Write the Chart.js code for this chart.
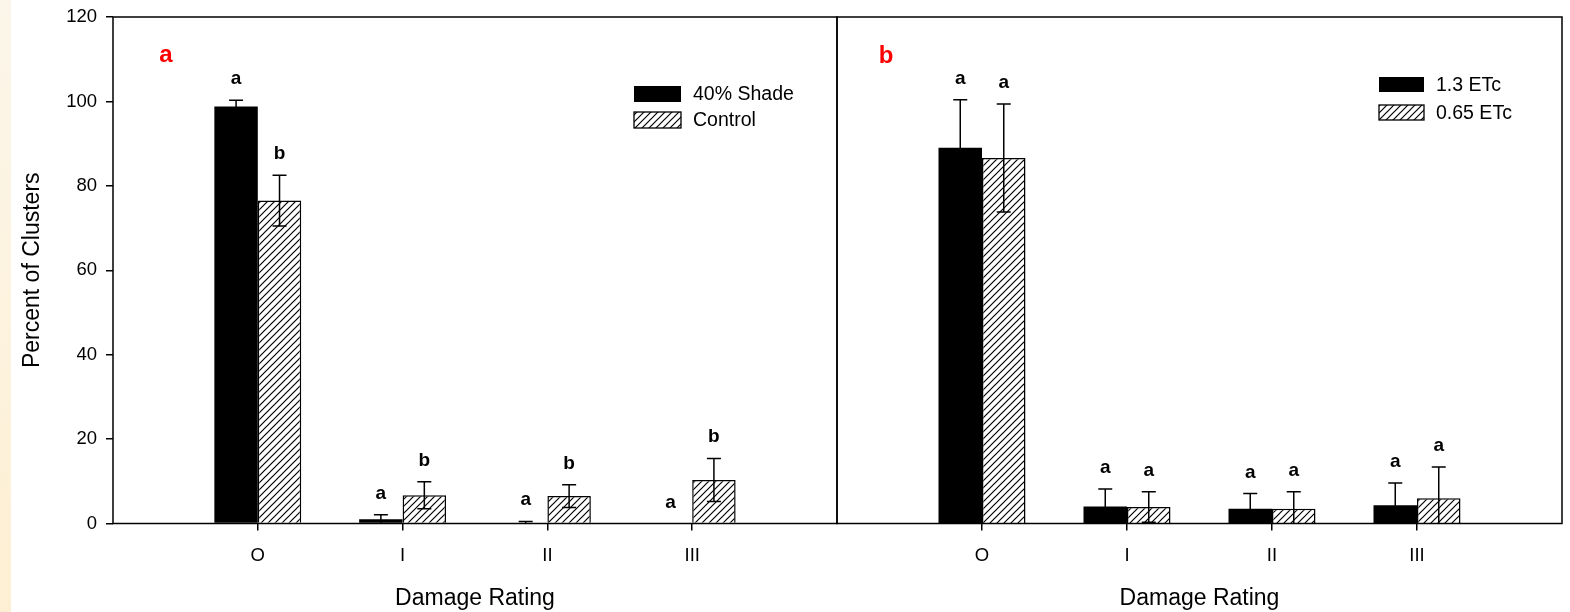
<!DOCTYPE html>
<html><head><meta charset="utf-8">
<script src="https://cdn.jsdelivr.net/npm/chart.js@4/dist/chart.umd.min.js"></script>
<style>
html,body{margin:0;padding:0;background:#fff;width:1570px;height:612px;overflow:hidden}
#strip{position:absolute;left:0;top:0;width:11px;height:612px;background:linear-gradient(#fcf6ea,#fdefd3)}
#c1{position:absolute;left:0;top:0}
#c2{position:absolute;left:820px;top:0}
</style></head><body>
<div id="strip"></div>
<canvas id="c1" width="850" height="612"></canvas>
<canvas id="c2" width="750" height="612"></canvas>
<script>
// ---- data ----
const categories = ['O','I','II','III'];
const yTicks = [0,20,40,60,80,100,120];
const shadeVals   = [98.8, 1.0, 0, 0];
const shadeErr    = [1.5, 1.1, 0.5, 0];
const shadeSig    = ['a','a','a','a'];
const controlVals = [76.5, 6.7, 6.5, 10.3];
const controlErr  = [6.0, 3.2, 2.7, 5.1];
const controlSig  = ['b','b','b','b'];
const etcHighVals = [89.0, 4.0, 3.5, 4.3];
const etcHighErr  = [11.4, 4.2, 3.6, 5.3];
const etcHighSig  = ['a','a','a','a'];
const etcLowVals  = [86.6, 3.9, 3.5, 6.0];
const etcLowErr   = [12.8, 3.6, 4.0, 7.4];
const etcLowSig   = ['a','a','a','a'];

const FONT = '"Liberation Sans", Arial, sans-serif';
Chart.defaults.font.family = FONT;
Chart.defaults.color = '#000';

function makeHatch(){
  const s = 7, c = document.createElement('canvas');
  c.width = c.height = s;
  const x = c.getContext('2d');
  x.fillStyle = '#fff'; x.fillRect(0,0,s,s);
  x.strokeStyle = '#000'; x.lineWidth = 1.2;
  x.beginPath();
  x.moveTo(0,s); x.lineTo(s,0);
  x.moveTo(-1,1); x.lineTo(1,-1);
  x.moveTo(s-1,s+1); x.lineTo(s+1,s-1);
  x.stroke();
  return x.createPattern(c,'repeat');
}
const HATCH = makeHatch();

function ds(label, vals, err, sig, hatched){
  return {
    label, err, sig, hatched,
    data: vals.map((v,i)=>({x:i+1, y:v})),
    backgroundColor: hatched ? HATCH : '#000',
    borderColor: '#000',
    borderWidth: hatched ? 1.5 : 0,
    categoryPercentage: 0.6,
    barPercentage: 1.0
  };
}

function noPad(s){ s.paddingTop = 0; s.paddingBottom = 0; s.paddingLeft = 0; s.paddingRight = 0; }

const errPlugin = {
  id:'errbars',
  afterDatasetsDraw(chart){
    const ctx = chart.ctx, ys = chart.scales.y;
    ctx.save();
    chart.data.datasets.forEach((d,di)=>{
      const meta = chart.getDatasetMeta(di);
      meta.data.forEach((bar,i)=>{
        const v = d.data[i].y, e = d.err[i];
        const cx = bar.x;
        const top = ys.getPixelForValue(v+e);
        if (e > 0){
          const bot = ys.getPixelForValue(Math.max(0, v-e));
          ctx.strokeStyle = '#000'; ctx.lineWidth = 1.5;
          ctx.beginPath();
          ctx.moveTo(cx, bot); ctx.lineTo(cx, top);
          ctx.moveTo(cx-7, top); ctx.lineTo(cx+7, top);
          if (v - e > 0){ ctx.moveTo(cx-7, bot); ctx.lineTo(cx+7, bot); }
          ctx.stroke();
        }
        ctx.fillStyle = '#000';
        ctx.font = 'bold 19px ' + FONT;
        ctx.textAlign = 'center';
        ctx.textBaseline = 'alphabetic';
        ctx.fillText(d.sig[i], cx, top - 16);
      });
    });
    ctx.restore();
  }
};

const framePlugin = {
  id:'frame',
  afterDraw(chart, args, opts){
    const {ctx, chartArea:a} = chart;
    ctx.save();
    ctx.strokeStyle = '#000'; ctx.lineWidth = 1.5;
    ctx.strokeRect(a.left, a.top, a.right-a.left, a.bottom-a.top);
    ctx.fillStyle = '#ff0000';
    ctx.font = 'bold 24px ' + FONT;
    ctx.textAlign = 'center'; ctx.textBaseline = 'alphabetic';
    ctx.fillText(opts.panel, a.left + opts.px, a.top + opts.py);
    ctx.restore();
  }
};

const legendPlugin = {
  id:'boxlegend',
  afterDraw(chart, args, o){
    const ctx = chart.ctx;
    ctx.save();
    chart.data.datasets.forEach((d,i)=>{
      const y = o.y + i*o.gap;
      ctx.fillStyle = d.hatched ? HATCH : '#000';
      ctx.fillRect(o.x, y, o.w, o.h);
      if (d.hatched){ ctx.strokeStyle='#000'; ctx.lineWidth=1.3; ctx.strokeRect(o.x, y, o.w, o.h); }
      ctx.fillStyle = '#000';
      ctx.font = '19.5px ' + FONT;
      ctx.textAlign = 'left'; ctx.textBaseline = 'middle';
      ctx.fillText(d.label, o.x + o.w + 12, y + o.h/2 + 1);
    });
    ctx.restore();
  }
};

function xScale(){
  return {
    type:'linear', min:0, max:5, offset:false,
    afterBuildTicks(s){ s.ticks = [0,1,2,3,4,5].map(v=>({value:v})); },
    afterFit(s){ s.height = 88.5; noPad(s); },
    border:{display:false},
    grid:{offset:false, drawOnChartArea:false, drawTicks:true, tickLength:7, lineWidth:1.5,
      color: c => (c.tick && c.tick.value>=1 && c.tick.value<=4) ? '#000' : 'rgba(0,0,0,0)',
      tickColor: c => (c.tick && c.tick.value>=1 && c.tick.value<=4) ? '#000' : 'rgba(0,0,0,0)'},
    ticks:{padding:14, font:{size:18.5}, color:'#000', maxRotation:0, autoSkip:false,
      callback: v => (v>=1 && v<=4) ? categories[v-1] : ''},
    title:{display:true, text:'Damage Rating', font:{size:23}, color:'#000', padding:{top:0,bottom:0}}
  };
}

new Chart(document.getElementById('c1'), {
  type:'bar',
  data:{datasets:[
    ds('40% Shade', shadeVals, shadeErr, shadeSig, false),
    ds('Control', controlVals, controlErr, controlSig, true)
  ]},
  options:{
    responsive:false, animation:false, devicePixelRatio:1,
    layout:{padding:{top:17, right:13, left:0, bottom:0}},
    plugins:{legend:{display:false}, tooltip:{enabled:false},
      frame:{panel:'a', px:53, py:45},
      boxlegend:{x:634, y:86, w:47, h:16, gap:26}},
    scales:{
      x: xScale(),
      y:{
        min:0, max:120,
        afterBuildTicks(s){ s.ticks = yTicks.map(v=>({value:v})); },
        afterFit(s){ s.width = 113; noPad(s); },
        border:{display:false},
        grid:{drawOnChartArea:false, drawTicks:true, tickLength:7, lineWidth:1.5, color:'#000', tickColor:'#000'},
        ticks:{padding:9, font:{size:18.5}, color:'#000'},
        title:{display:true, text:'Percent of Clusters', font:{size:23}, color:'#000', padding:{top:19,bottom:0}}
      }
    }
  },
  plugins:[framePlugin, errPlugin, legendPlugin]
});

new Chart(document.getElementById('c2'), {
  type:'bar',
  data:{datasets:[
    ds('1.3 ETc', etcHighVals, etcHighErr, etcHighSig, false),
    ds('0.65 ETc', etcLowVals, etcLowErr, etcLowSig, true)
  ]},
  options:{
    responsive:false, animation:false, devicePixelRatio:1,
    layout:{padding:{top:17, right:8, left:17, bottom:0}},
    plugins:{legend:{display:false}, tooltip:{enabled:false},
      frame:{panel:'b', px:49, py:46},
      boxlegend:{x:559, y:77, w:45, h:15, gap:28}},
    scales:{
      x: xScale(),
      y:{display:false, min:0, max:120}
    }
  },
  plugins:[framePlugin, errPlugin, legendPlugin]
});
</script>
</body></html>
